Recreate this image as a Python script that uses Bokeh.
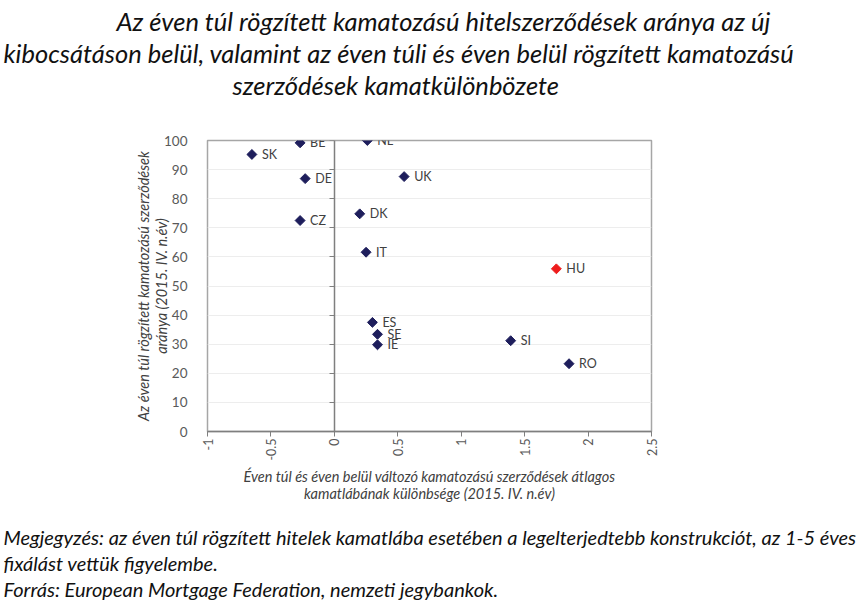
from bokeh.plotting import figure
from bokeh.models import (ColumnDataSource, Range1d, LinearAxis, FixedTicker, LabelSet, Title)
from bokeh.core.properties import value
from bokeh.embed import file_html
from bokeh.resources import INLINE
import math

# ---- data ----
countries = ["SK", "BE", "DE", "CZ", "NL", "UK", "DK", "IT", "HU", "ES", "SE", "IE", "SI", "RO"]
rate_diff = [-0.65, -0.27, -0.23, -0.27, 0.26, 0.55, 0.20, 0.25, 1.75, 0.30, 0.34, 0.34, 1.39, 1.85]
fixed_share = [95.2, 99.2, 86.9, 72.5, 100.0, 87.6, 74.8, 61.6, 55.9, 37.5, 33.4, 29.8, 31.2, 23.3]
highlight = "HU"

x_ticks = [-1, -0.5, 0, 0.5, 1, 1.5, 2, 2.5]
x_tick_labels = ["-1", "-0.5", "0", "0.5", "1", "1.5", "2", "2.5"]
y_ticks = [0, 10, 20, 30, 40, 50, 60, 70, 80, 90, 100]
y_tick_labels = [str(v) for v in y_ticks]

title_lines = [
    "Az éven túl rögzített kamatozású hitelszerződések aránya az új",
    "kibocsátáson belül, valamint az éven túli és éven belül rögzített kamatozású",
    "szerződések kamatkülönbözete",
]
y_title = "Az éven túl rögzített kamatozású szerződések\naránya (2015. IV. n.év)"
x_title = "Éven túl és éven belül változó kamatozású szerződések átlagos\nkamatlábának különbsége (2015. IV. n.év)"
note_lines = [
    "Megjegyzés: az éven túl rögzített hitelek kamatlába esetében a legelterjedtebb konstrukciót, az 1-5 éves",
    "fixálást vettük figyelembe.",
    "Forrás: European Mortgage Federation, nemzeti jegybankok.",
]

NAVY = "#1e1e5c"
RED = "#ee1c1c"
FONT = "Lato"

W, H = 860, 602
FL, FR, FT, FB = 207, 651, 140, 431   # frame edges in canvas px

colors = [RED if c == highlight else NAVY for c in countries]
src = ColumnDataSource(dict(x=rate_diff, y=fixed_share, name=countries, color=colors))

p = figure(width=W, height=H, output_backend="svg", toolbar_location=None,
           x_range=Range1d(-1, 2.5), y_range=Range1d(0, 100),
           min_border_left=FL, min_border_right=W - FR, min_border_top=FT, min_border_bottom=H - FB,
           background_fill_color="white", border_fill_color="white")
p.outline_line_color = "#a6a6a6"
p.outline_line_width = 1.5

# grid
p.xgrid.visible = False
p.ygrid.ticker = FixedTicker(ticks=y_ticks)
p.ygrid.grid_line_color = "#ededed"

# x axis (bottom); the trailing empty line leaves room above the notes
xa = p.xaxis[0]
xa.ticker = FixedTicker(ticks=x_ticks)
xa.major_label_overrides = {t: l for t, l in zip(x_ticks, x_tick_labels)}
xa.major_label_orientation = math.pi / 2
xa.axis_line_color = "#7f7f7f"
xa.axis_line_width = 1.5
xa.major_tick_line_color = "#7f7f7f"
xa.major_tick_out = 5
xa.major_tick_in = 0
xa.minor_tick_line_color = None
xa.major_label_text_font = FONT
xa.major_label_text_font_size = "12.5px"
xa.major_label_text_color = "#595959"
xa.major_label_standoff = 2
xa.axis_label = x_title + "\n"
xa.axis_label_text_font = FONT
xa.axis_label_text_font_style = "italic"
xa.axis_label_text_font_size = "14.5px"
xa.axis_label_text_color = "#404040"
xa.axis_label_text_align = "center"
xa.axis_label_text_line_height = 1.03
xa.axis_label_standoff = 4

# y axis labels (left of frame)
ya = p.yaxis[0]
ya.ticker = FixedTicker(ticks=y_ticks)
ya.major_label_overrides = {t: l for t, l in zip(y_ticks, y_tick_labels)}
ya.axis_line_color = None
ya.major_tick_line_color = None
ya.minor_tick_line_color = None
ya.major_label_text_font = FONT
ya.major_label_text_font_size = "13.5px"
ya.major_label_text_color = "#595959"
ya.major_label_standoff = 14
ya.axis_label = y_title
ya.axis_label_text_font = FONT
ya.axis_label_text_font_style = "italic"
ya.axis_label_text_font_size = "14.5px"
ya.axis_label_text_color = "#404040"
ya.axis_label_text_align = "center"
ya.axis_label_text_line_height = 1.03
ya.axis_label_standoff = -9

# y axis line at x = 0 with ticks
ya0 = LinearAxis(fixed_location=0, ticker=FixedTicker(ticks=y_ticks),
                 major_label_text_font_size="0px", major_label_text_alpha=0,
                 axis_line_color="#7f7f7f", axis_line_width=1.5,
                 major_tick_line_color="#7f7f7f", major_tick_out=5, major_tick_in=0,
                 minor_tick_line_color=None)
p.add_layout(ya0, "left")

# points
p.scatter("x", "y", source=src, marker="square", angle=math.pi / 4, size=7,
          fill_color="color", line_color="color")
p.add_layout(LabelSet(x="x", y="y", text="name", source=src, x_offset=10, y_offset=0,
                      text_baseline="middle", text_font=value(FONT), text_font_size="12.5px",
                      text_color="#404040"))

# title (panel items stack outward from the frame); the last line carries an
# empty line below it to keep the gap above the plot
for t, off, lh in [(title_lines[2] + "\n", 25, 1.36), (title_lines[1], -204, 1.0),
                   (title_lines[0], -91, 1.0)]:
    p.add_layout(Title(text=t, align="left", offset=off, standoff=0, text_font=FONT,
                       text_font_style="italic", text_font_size="25.5px", text_line_height=lh,
                       text_color="#111111"), "above")

# notes below
for t in note_lines:
    p.add_layout(Title(text=t, align="left", offset=-204, standoff=0, text_font=FONT,
                       text_font_style="italic", text_font_size="20px", text_line_height=1.0,
                       text_color="#111111"), "below")

open("out.html", "w").write(file_html(p, INLINE))
